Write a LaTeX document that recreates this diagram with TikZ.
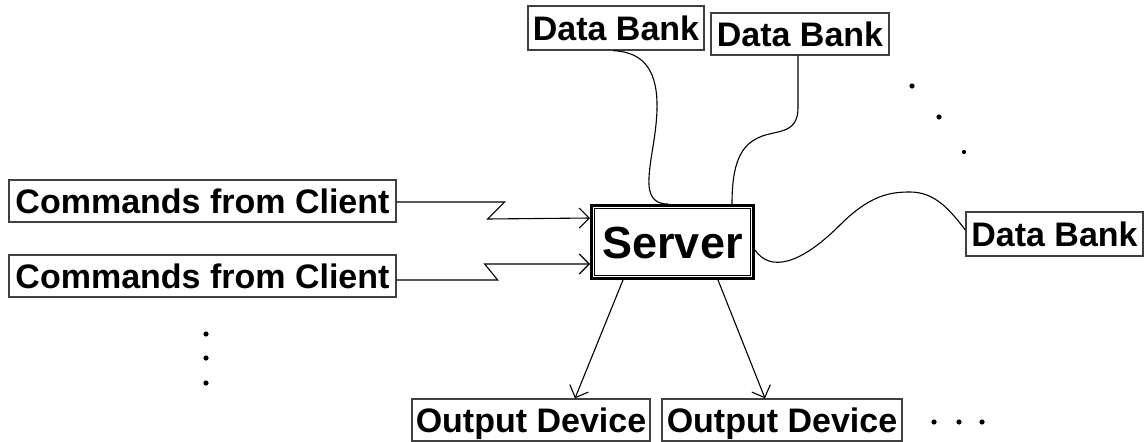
\documentclass[tikz,border=0pt]{standalone}
\usepackage{fontspec}
\setmainfont{Liberation Sans}
\usetikzlibrary{arrows.meta}

\tikzset{
  lbl/.style={draw=black!75, line width=1.3pt, inner sep=0pt, fill=white,
    font=\fontsize{34}{40}\selectfont\bfseries, text height=24.3pt, text depth=0pt},
  link/.style={line width=1.1pt, black},
  arr/.style={link, -{Straight Barb[length=10pt,width=20pt,line width=1.1pt]}},
  dot/.style={fill=black, draw=none},
}

\begin{document}
\begin{tikzpicture}[x=1pt, y=-1pt]
  \useasboundingbox (0,0) rectangle (1144,442);

  % server in the middle, with a thick outer frame and a thin inner frame
  \node[draw=black, line width=3pt, minimum width=162pt, minimum height=73pt,
        inner sep=0pt, font=\fontsize{45}{50}\selectfont\bfseries,
        text height=32pt, text depth=0pt] (srv) at (672.5,242) {Server};
  \draw[line width=1.5pt] ([shift={(4.5,4.5)}]srv.north west) rectangle ([shift={(-4.5,-4.5)}]srv.south east);

  % clients
  \node[lbl, minimum width=387pt, minimum height=42pt] (c1) at (202.5,201) {Commands from Client};
  \node[lbl, minimum width=387pt, minimum height=42pt] (c2) at (202.5,276) {Commands from Client};

  % data banks
  \node[lbl, minimum width=176pt, minimum height=44pt] (db1) at (616,28) {Data Bank};
  \node[lbl, minimum width=178pt, minimum height=42pt] (db2) at (800,34) {Data Bank};
  \node[lbl, minimum width=177pt, minimum height=44pt] (db3) at (1054.5,234) {Data Bank};

  % output devices
  \node[lbl, minimum width=238pt, minimum height=42pt] (od1) at (531,420) {Output Device};
  \node[lbl, minimum width=240pt, minimum height=42pt] (od2) at (782,420) {Output Device};

  % client commands, each with a zigzag
  \draw[arr] ([yshift=-1pt]c1.east) -- ++(108,0) -- ++(-17,17) -- ([yshift=24pt]srv.west);
  \draw[arr] ([yshift=-4pt]c2.east) -- ++(101,0) -- ++(-13,-16) -- ([yshift=-22pt]srv.west);

  % data bank links
  \draw[link] ([xshift=-3pt]db1.south) .. controls (645,52) and (658,72) .. (657,110)
      .. controls (656,140) and (648,165) .. (649,185)
      .. controls (650,200) and (658,204) .. ([xshift=-4.5pt]srv.north);
  \draw[link] ([xshift=-2pt]db2.south) -- (798,108)
      .. controls (798,135) and (775,130) .. (760,137)
      .. controls (740,145) and (732,165) .. ([xshift=59.5pt]srv.north);
  \draw[link] ([yshift=-8pt]srv.east) .. controls (770,272) and (800,265) .. (840,225)
      .. controls (870,195) and (890,192) .. (910,192)
      .. controls (935,192) and (950,210) .. ([yshift=4pt]db3.west);

  % outputs
  \draw[arr] ([xshift=-49.5pt]srv.south) -- ([xshift=44pt]od1.north);
  \draw[arr] ([xshift=45.5pt]srv.south) -- ([xshift=-17pt]od2.north);

  % ellipses
  \foreach \p in {(206,334),(206,358),(206,383),(912,86),(939,117),(934,422),(959,422),(982,422)}
    \fill[dot] \p circle (2.6);
  \fill[dot] (964,152) circle (2.1);
\end{tikzpicture}
\end{document}
